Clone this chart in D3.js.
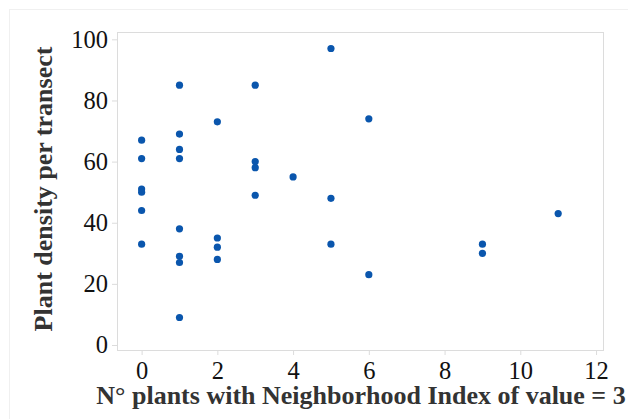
<!DOCTYPE html>
<html><head><meta charset="utf-8">
<script src="https://cdn.jsdelivr.net/npm/d3@7"></script>
<style>html,body{margin:0;padding:0;background:#fff;}svg{display:block;}</style>
</head><body><svg id="chart" width="628" height="419"></svg>
<script>
const xValues = [0,0,0,0,0,0, 1,1,1,1,1,1,1,1, 2,2,2,2, 3,3,3,3, 4, 5,5,5, 6,6, 9,9, 11];
const yValues = [67,61,51,50,44,33, 85,69,64,61,38,29,27,9, 73,35,32,28, 85,60,58,49, 55, 97,48,33, 74,23, 33,30, 43];
const xTicks = [0,2,4,6,8,10,12];
const yTicks = [0,20,40,60,80,100];
const xTitle = "N° plants with Neighborhood Index of value = 3";
const yTitle = "Plant density per transect";

const svg = d3.select("#chart");
const L = 117, R = 604, T = 32, B = 351;
const x = d3.scaleLinear().domain([-0.65, 12.21]).range([L, R]);
const y = d3.scaleLinear().domain([-1.96, 102.4]).range([B, T]);
const font = "'Liberation Serif','Times New Roman',serif";

// faint outer frame
svg.append("rect").attr("x",9.5).attr("y",9.5).attr("width",640).attr("height",420)
  .attr("fill","none").attr("stroke","#f0f0f0");

// plot box
svg.append("rect").attr("x",L+0.5).attr("y",T+0.5).attr("width",R-L-1).attr("height",B-T-1)
  .attr("fill","none").attr("stroke","#dcdcdc");

const xAxis = svg.append("g").attr("transform",`translate(0,${B})`)
  .call(d3.axisBottom(x).tickValues(xTicks).tickSize(4).tickPadding(8).tickFormat(d3.format("d")));
const yAxis = svg.append("g").attr("transform",`translate(${L},0)`)
  .call(d3.axisLeft(y).tickValues(yTicks).tickSize(5).tickPadding(4).tickFormat(d3.format("d")));
[xAxis,yAxis].forEach(a=>{
  a.select(".domain").remove();
  a.selectAll(".tick line").attr("stroke","#dcdcdc");
  a.selectAll(".tick text").attr("font-family",font).attr("font-size",24.5).attr("fill","#111");
});
xAxis.selectAll(".tick text").attr("y",27.5).attr("dy",0);

svg.append("g").selectAll("circle").data(xValues.map((d,i)=>[d,yValues[i]])).join("circle")
  .attr("cx",d=>x(d[0])).attr("cy",d=>y(d[1])).attr("r",3.6).attr("fill","#0a56ad");

svg.append("text").attr("x",361).attr("y",404).attr("text-anchor","middle")
  .attr("font-family",font).attr("font-size",26).attr("font-weight","bold").attr("fill","#333")
  .text(xTitle);
svg.append("text").attr("transform",`translate(52,189) rotate(-90)`).attr("text-anchor","middle")
  .attr("font-family",font).attr("font-size",26).attr("font-weight","bold").attr("fill","#333")
  .text(yTitle);
</script></body></html>
